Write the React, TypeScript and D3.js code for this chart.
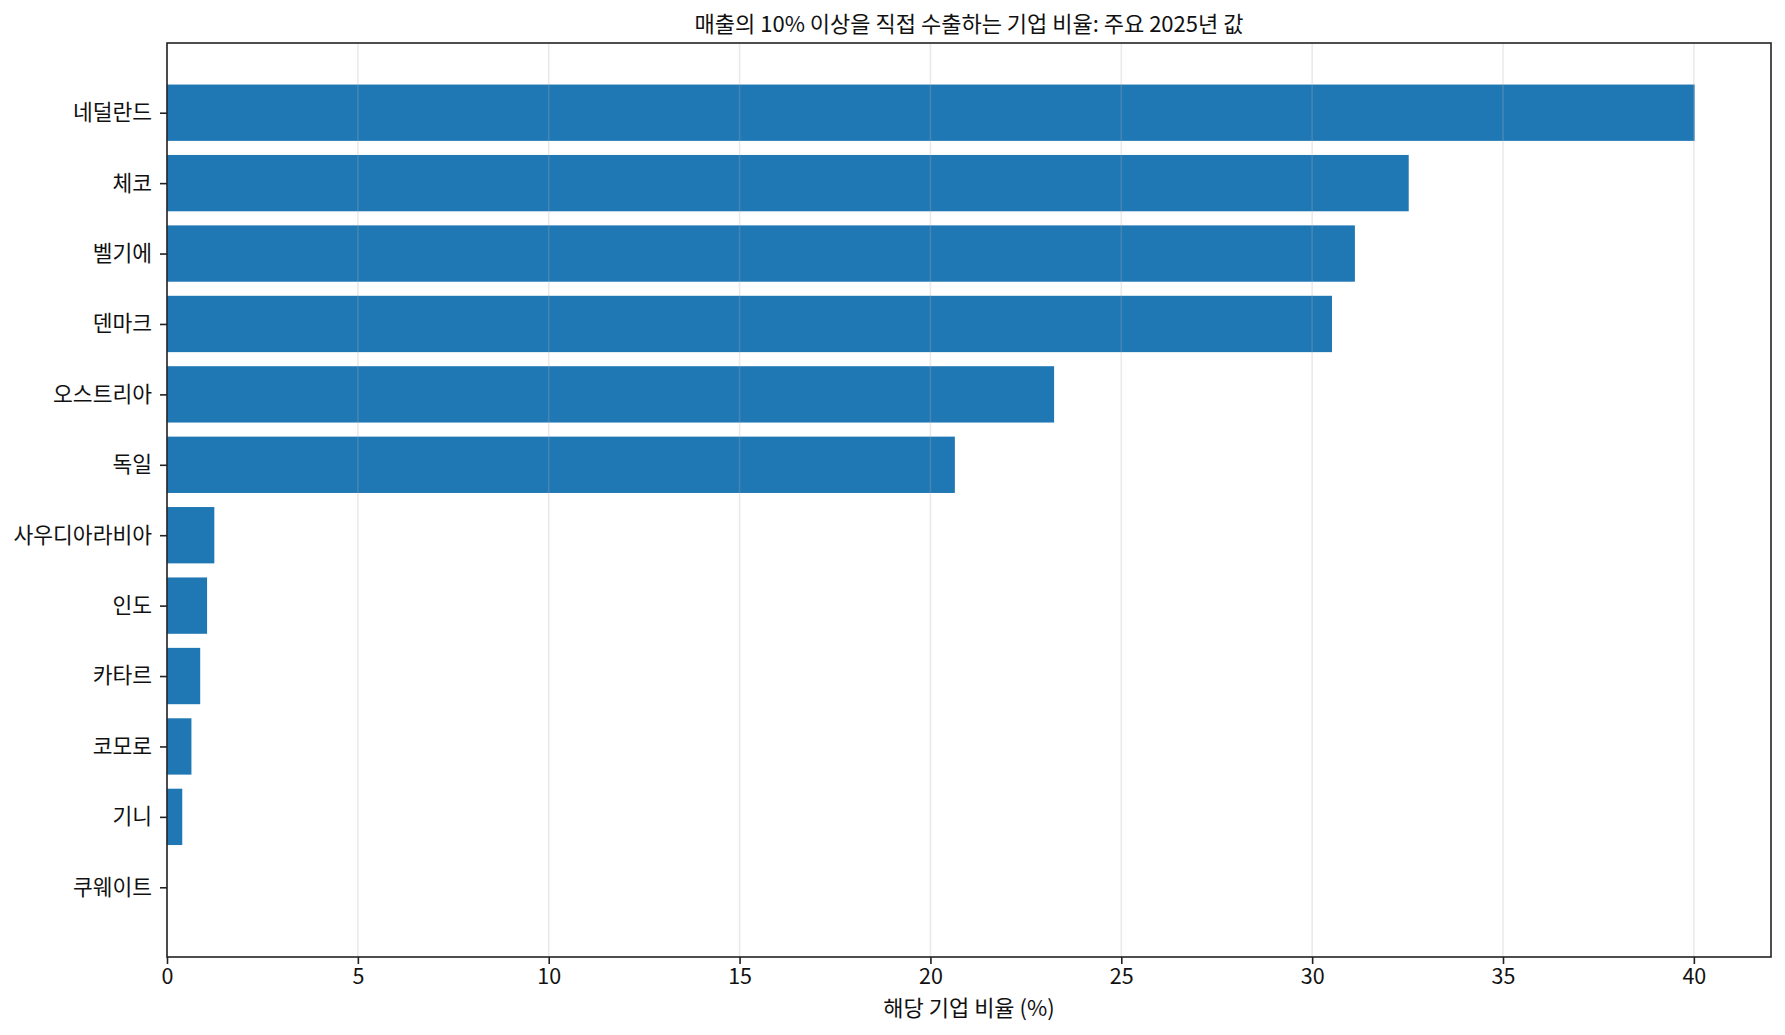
import React, { useEffect, useRef } from "react";
import { select, scaleLinear, axisBottom, axisLeft } from "d3";

const W = 1785;
const H = 1035;
const MARGIN = { top: 43, right: 14, bottom: 78, left: 167 };
const BAR = "#1f77b4";
const FONT = "'Noto Sans CJK KR', 'Noto Sans', sans-serif";

const TITLE = "매출의 10% 이상을 직접 수출하는 기업 비율: 주요 2025년 값";
const X_LABEL = "해당 기업 비율 (%)";

const countries = [
  "네덜란드",
  "체코",
  "벨기에",
  "덴마크",
  "오스트리아",
  "독일",
  "사우디아라비아",
  "인도",
  "카타르",
  "코모로",
  "기니",
  "쿠웨이트",
];
const shares = [40.02, 32.53, 31.12, 30.52, 23.24, 20.64, 1.24, 1.05, 0.87, 0.64, 0.4, 0];
const xTicks = [0, 5, 10, 15, 20, 25, 30, 35, 40];

export default function App() {
  const ref = useRef<SVGSVGElement>(null);

  useEffect(() => {
    if (!ref.current) return;
    const svg = select(ref.current);
    svg.selectAll("*").remove();

    const innerW = W - MARGIN.left - MARGIN.right;
    const innerH = H - MARGIN.top - MARGIN.bottom;
    const barH = 0.8;

    // matplotlib-style limits: 5% padding around the data
    const xMax = Math.max(...shares);
    const x = scaleLinear().domain([0, xMax * 1.05]).range([0, innerW]);
    const yLo = -barH / 2;
    const yHi = countries.length - 1 + barH / 2;
    const pad = (yHi - yLo) * 0.05;
    const y = scaleLinear().domain([yLo - pad, yHi + pad]).range([0, innerH]);

    const g = svg.append("g").attr("transform", `translate(${MARGIN.left},${MARGIN.top})`);

    // Bars.
    g.selectAll("rect.bar")
      .data(shares)
      .join("rect")
      .attr("class", "bar")
      .attr("x", x(0))
      .attr("y", (_, i) => y(i - barH / 2))
      .attr("width", (d) => x(d) - x(0))
      .attr("height", y(barH) - y(0))
      .attr("fill", BAR);

    // Vertical gridlines, drawn over the bars.
    g.selectAll("line.grid")
      .data(xTicks)
      .join("line")
      .attr("class", "grid")
      .attr("x1", (d) => x(d))
      .attr("x2", (d) => x(d))
      .attr("y1", 0)
      .attr("y2", innerH)
      .attr("stroke", "#b0b0b0")
      .attr("stroke-width", 1.6)
      .attr("opacity", 0.25);

    // Axes.
    const xAxis = g
      .append("g")
      .attr("transform", `translate(0,${innerH})`)
      .call(axisBottom(x).tickValues(xTicks).tickSize(7).tickPadding(5).tickFormat((d) => `${d}`));
    const yAxis = g
      .append("g")
      .call(
        axisLeft(y)
          .tickValues(countries.map((_, i) => i))
          .tickSize(7)
          .tickPadding(8)
          .tickFormat((_, i) => countries[i])
      );
    for (const ax of [xAxis, yAxis]) {
      ax.select(".domain").remove();
      ax.selectAll(".tick line").attr("stroke", "#222").attr("stroke-width", 1.6);
      ax.selectAll(".tick text")
        .attr("font-family", FONT)
        .attr("font-size", "21.5px")
        .attr("fill", "#111");
    }

    // Frame.
    g.append("rect")
      .attr("x", 0)
      .attr("y", 0)
      .attr("width", innerW)
      .attr("height", innerH)
      .attr("fill", "none")
      .attr("stroke", "#222")
      .attr("stroke-width", 1.6);

    // Title + axis label.
    svg
      .append("text")
      .attr("x", MARGIN.left + innerW / 2)
      .attr("y", 32)
      .attr("text-anchor", "middle")
      .attr("font-family", FONT)
      .attr("font-size", "22px")
      .attr("fill", "#111")
      .text(TITLE);

    svg
      .append("text")
      .attr("x", MARGIN.left + innerW / 2)
      .attr("y", 1016)
      .attr("text-anchor", "middle")
      .attr("font-family", FONT)
      .attr("font-size", "22px")
      .attr("fill", "#111")
      .text(X_LABEL);
  }, []);

  return (
    <>
      <style>{"body{margin:0;overflow:hidden}"}</style>
      <svg
        ref={ref}
        width={W}
        height={H}
        viewBox={`0 0 ${W} ${H}`}
        style={{ display: "block", background: "#fff" }}
      />
    </>
  );
}
